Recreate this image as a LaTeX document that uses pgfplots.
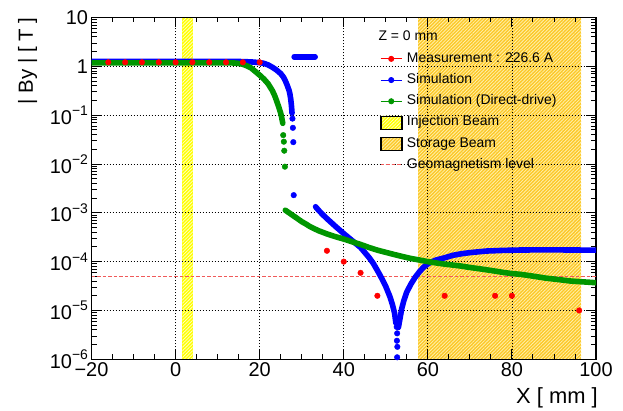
\documentclass[border=0pt]{standalone}
\usepackage{fontspec}
\setmainfont{Liberation Sans}
\usepackage{pgfplots}
\pgfplotsset{compat=1.18}
\usetikzlibrary{patterns.meta}

\definecolor{rootblue}{RGB}{0,0,255}
\definecolor{rootgreen}{RGB}{0,150,0}
\definecolor{rootred}{RGB}{255,0,0}
\definecolor{injyellow}{RGB}{255,255,0}
\definecolor{injlight}{RGB}{255,255,190}
\definecolor{storeorange}{RGB}{252,200,40}
\definecolor{hatchlight}{RGB}{255,240,170}
\definecolor{geored}{RGB}{240,90,90}

\pgfplotsset{
    dotline legend/.style={legend image code/.code={%
        \draw[##1] (0bp,0bp) -- (21bp,0bp); \fill[##1] (10.5bp,0bp) circle (2.6bp);}},
    dash legend/.style={legend image code/.code={\draw[##1] (0bp,0bp) -- (21bp,0bp);}},
    box legend/.style 2 args={legend image code/.code={%
        \fill[#1] (0bp,-6.5bp) rectangle (21bp,6.5bp);
        \fill[pattern={Lines[angle=45,distance=2.4bp,line width=0.8bp]}, pattern color=#2] (0bp,-6.5bp) rectangle (21bp,6.5bp);
        \draw[black, line width=0.8bp] (0bp,-6.5bp) rectangle (21bp,6.5bp);}},
    hatched/.style 2 args={draw=none, fill=#1,
        postaction={pattern={Lines[angle=45,distance=2.4bp,line width=0.8bp]}, pattern color=#2}},
}
\newcommand\supexp[1]{10\raisebox{8.6bp}{\fontsize{14}{14}\selectfont −#1}}

\begin{document}
\begin{tikzpicture}
\begin{axis}[
    set layers,
    at={(91.5bp,51.7bp)}, anchor=south west,
    scale only axis, width=504.5bp, height=341.8bp,
    xmin=-20, xmax=100,
    ymode=log, ymin=1e-6, ymax=10,
    xtick={-20,0,20,40,60,80,100},
    xticklabels={−20,0,20,40,60,80,100},
    minor x tick num=3,
    yticklabel={\pgfmathtruncatemacro\e{round(\tick/ln(10))}\ifnum\e=0 1\else\ifnum\e=1 10\else\supexp{\the\numexpr-\e\relax}\fi\fi},
    tick align=inside,
    major tick length=10bp, minor tick length=5bp,
    every tick/.style={black, line width=0.9bp},
    axis line style={line width=1.2bp},
    ticklabel style={font=\fontsize{20}{20}\selectfont},
    grid=major,
    major grid style={black, line width=0.8bp, dash pattern=on 1bp off 2bp},
    xlabel={X [ mm ]},
    ylabel={| By | [ T ]},
    every axis x label/.style={at={(rel axis cs:1,0)}, anchor=north east, yshift=-28bp, xshift=2bp, inner sep=0pt, font=\fontsize{22}{22}\selectfont},
    every axis y label/.style={at={(rel axis cs:-0.112,1)}, rotate=90, anchor=base east, yshift=2bp, inner sep=0pt, font=\fontsize{20.5}{20.5}\selectfont},
    legend style={at={(rel axis cs:0.5719,0.9015)}, anchor=north west, draw=none, fill=none,
        font=\fontsize{14}{14}\selectfont, row sep=6.2bp, column sep=4.7bp, inner sep=0pt,
        nodes={inner sep=0pt, text height=11bp, text depth=4bp}},
    legend cell align=left,
]
% beams
\addplot[forget plot, hatched={injyellow}{injlight}, on layer=axis background]
    coordinates {(1.6,1e-6) (4.1,1e-6) (4.1,10) (1.6,10)} -- cycle;
\addplot[forget plot, hatched={storeorange}{hatchlight}, on layer=axis background]
    coordinates {(57.7,1e-6) (96.5,1e-6) (96.5,10) (57.7,10)} -- cycle;

% geomagnetism level
\addplot[forget plot, geored, line width=1bp, dash pattern=on 3.5bp off 2bp]
    coordinates {(-20,5e-5) (100,5e-5)};

% Simulation (blue)
\addplot[forget plot, rootblue, line width=5.6bp, line cap=round, line join=round]
    coordinates {(-20,1.26) (14,1.26) (16,1.25) (18,1.23) (20,1.19) (21,1.15) (22,1.07)
    (23,0.96) (24,0.84) (25,0.71) (25.6,0.61) (26,0.53) (26.5,0.42) (27,0.32)
    (27.2,0.27) (27.4,0.21) (27.55,0.16) (27.7,0.11)};
\addplot[forget plot, rootblue, only marks, mark=*, mark size=2.8bp]
    coordinates {(27.8,0.085) (27.9,0.055) (28.0,0.028) (28.1,0.0023)};
\addplot[forget plot, rootblue, line width=5.6bp, line cap=round]
    coordinates {(28.2,1.57) (33.2,1.57)};
\addplot[forget plot, rootblue, line width=5.6bp, line cap=round, line join=round]
    coordinates {(33.3,1.33e-3) (34,1.13e-3) (35,9.2e-4) (36,7.6e-4) (38,5.3e-4)
    (40,3.75e-4) (42,2.7e-4) (44,1.95e-4) (46,1.22e-4) (47,9.3e-5) (48,6.6e-5)
    (49,4.6e-5) (50,3.1e-5) (51,1.9e-5) (51.6,1.3e-5) (52.1,8.7e-6) (52.4,5.5e-6)};
\addplot[forget plot, rootblue, only marks, mark=*, mark size=2.8bp]
    coordinates {(52.6,4.6e-6) (52.7,3.4e-6) (52.65,2.4e-6) (52.75,1.8e-6) (52.7,1.1e-6)};
\addplot[forget plot, rootblue, line width=5.6bp, line cap=round, line join=round]
    coordinates {(53.0,4.5e-6) (53.4,7e-6) (53.8,1.1e-5) (54.3,1.6e-5) (55,2.4e-5)
    (56,3.5e-5) (57,4.8e-5) (58,6.2e-5) (59,7.7e-5) (60,9e-5) (61,1e-4) (62,1.08e-4)
    (64,1.2e-4) (66,1.35e-4) (68,1.45e-4) (70,1.53e-4) (74,1.65e-4) (78,1.7e-4)
    (82,1.73e-4) (86,1.74e-4) (90,1.74e-4) (95,1.73e-4) (100,1.72e-4)};

% Simulation direct-drive (green)
\addplot[forget plot, rootgreen, line width=5.6bp, line cap=round, line join=round]
    coordinates {(-20,1.18) (12,1.18) (14,1.17) (15,1.15) (16,1.1) (17,1.02) (18,0.92)
    (19,0.78) (20,0.66) (21,0.55) (22,0.44) (23,0.32) (23.5,0.26) (24,0.2) (24.5,0.15)
    (25,0.11) (25.2,0.093) (25.4,0.075) (25.5,0.068)};
\addplot[forget plot, rootgreen, only marks, mark=*, mark size=2.8bp]
    coordinates {(25.6,0.039) (25.75,0.0286) (25.85,0.0187) (26.0,0.0088)};
\addplot[forget plot, rootgreen, line width=5.6bp, line cap=round, line join=round]
    coordinates {(26.1,1.13e-3) (27,1.0e-3) (28,8.7e-4) (29,7.6e-4) (30,6.6e-4)
    (31,5.9e-4) (32,5.2e-4) (34,4.3e-4) (36,3.7e-4) (38,3.25e-4) (40,2.9e-4)
    (42,2.55e-4) (44,2.25e-4) (46,1.95e-4) (48,1.72e-4) (50,1.55e-4) (52,1.4e-4)
    (54,1.27e-4) (56,1.16e-4) (58,1.08e-4) (60,1.0e-4) (62,9.4e-5) (64,8.9e-5)
    (66,8.5e-5) (68,8.1e-5) (70,7.6e-5) (72,7.2e-5) (74,6.8e-5) (76,6.4e-5)
    (78,6.0e-5) (80,5.7e-5) (82,5.5e-5) (84,5.2e-5) (86,4.9e-5) (88,4.6e-5)
    (90,4.4e-5) (92,4.2e-5) (94,4.0e-5) (96,3.9e-5) (98,3.8e-5) (100,3.7e-5)};

% Measurement (red)
\addplot[forget plot, rootred, only marks, mark=*, mark size=2.8bp]
    coordinates {(-16,1.21) (-12,1.21) (-8,1.21) (-4,1.21) (0,1.21)
    (4,1.21) (8,1.21) (12,1.21) (16,1.21) (20,1.21)
    (36,1.67e-4) (40,1e-4) (44,5.9e-5) (48,2e-5) (64,2e-5) (76,2e-5) (80,2e-5) (96,1e-5)};

% legend
\addlegendimage{rootred, line width=0.8bp, dotline legend}
\addlegendentry{Measurement : 226.6 A}
\addlegendimage{rootblue, line width=0.8bp, dotline legend}
\addlegendentry{Simulation}
\addlegendimage{rootgreen, line width=0.8bp, dotline legend}
\addlegendentry{Simulation (Direct-drive)}
\addlegendimage{box legend={injyellow}{injlight}}
\addlegendentry{Injection Beam}
\addlegendimage{box legend={storeorange}{hatchlight}}
\addlegendentry{Storage Beam}
\addlegendimage{geored, line width=1bp, dash pattern=on 3.5bp off 2bp, dash legend}
\addlegendentry{Geomagnetism level}

\node[anchor=west, inner sep=0pt, font=\fontsize{14}{14}\selectfont] at (rel axis cs:0.5685,0.946) {Z = 0 mm};
\end{axis}
\path (0,0) rectangle (623bp,411bp);
\end{tikzpicture}
\end{document}
